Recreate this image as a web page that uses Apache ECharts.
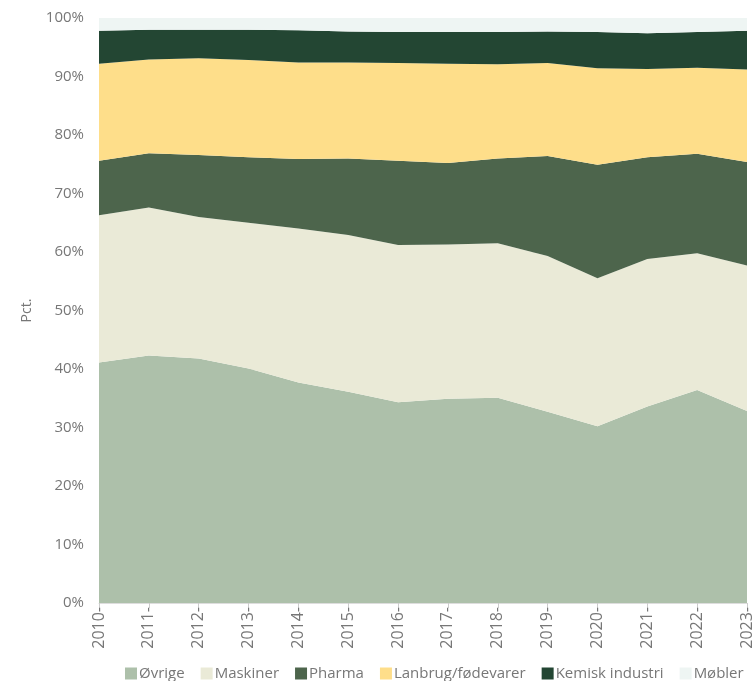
<!DOCTYPE html>
<html>
<head>
<meta charset="utf-8">
<script src="https://cdn.jsdelivr.net/npm/echarts@6/dist/echarts.min.js"></script>
<style>
  html, body { margin: 0; padding: 0; background: #fff; }
  #chart { width: 755px; height: 681px; }
</style>
</head>
<body>
<div id="chart"></div>
<script>
const years = ['2010', '2011', '2012', '2013', '2014', '2015', '2016', '2017', '2018', '2019', '2020', '2021', '2022', '2023'];

// andele i pct.
const ovrige = [41.1, 42.3, 41.8, 40.1, 37.7, 36.1, 34.3, 34.9, 35.1, 32.7, 30.2, 33.6, 36.4, 32.8];
const maskiner = [25.2, 25.3, 24.2, 24.9, 26.3, 26.8, 26.9, 26.4, 26.4, 26.6, 25.3, 25.2, 23.4, 24.9];
const pharma = [9.3, 9.3, 10.6, 11.2, 11.9, 13.1, 14.4, 13.9, 14.5, 17.1, 19.4, 17.4, 17.0, 17.7];
const lanbrug = [16.6, 16.0, 16.5, 16.6, 16.5, 16.4, 16.7, 17.0, 16.1, 15.9, 16.5, 15.1, 14.7, 15.8];
const kemisk = [5.6, 5.1, 4.9, 5.2, 5.5, 5.3, 5.3, 5.4, 5.5, 5.4, 6.2, 6.1, 6.1, 6.6];
const mobler = [2.2, 2.0, 2.0, 2.0, 2.1, 2.3, 2.4, 2.4, 2.4, 2.3, 2.4, 2.6, 2.4, 2.2];

const names = ['Øvrige', 'Maskiner', 'Pharma', 'Lanbrug/fødevarer', 'Kemisk industri', 'Møbler'];
const colors = ['#adc0aa', '#eaead7', '#4d654c', '#fede8a', '#234633', '#eef5f3'];
const values = [ovrige, maskiner, pharma, lanbrug, kemisk, mobler];

const chart = echarts.init(document.getElementById('chart'));

const series = names.map((name, i) => ({
  name: name,
  type: 'line',
  stack: 'total',
  data: values[i],
  symbol: 'none',
  lineStyle: { width: 0 },
  areaStyle: { color: colors[i], opacity: 1 },
  itemStyle: { color: colors[i] },
}));

chart.setOption({
  animation: false,
  textStyle: { fontFamily: 'Open Sans' },
  grid: { left: 99, right: 2, top: 18, bottom: 78 },
  legend: {
    bottom: -5,
    left: 120,
    icon: 'rect',
    itemWidth: 12,
    itemHeight: 12,
    itemGap: 16,
    itemStyle: { borderWidth: 0 },
    textStyle: { color: '#777', fontSize: 15, padding: [0, 0, 0, -3] },
    data: names,
  },
  xAxis: {
    type: 'category',
    data: years,
    boundaryGap: false,
    axisLine: { show: true, lineStyle: { color: '#ddd' } },
    axisTick: { show: true, alignWithLabel: true, length: 5, lineStyle: { color: '#ccc' } },
    axisLabel: {
      rotate: 90,
      interval: 0,
      color: '#777',
      fontSize: 16,
      margin: 4,
      formatter: v => v + '-',
    },
  },
  yAxis: {
    type: 'value',
    min: 0,
    max: 100,
    interval: 10,
    name: 'Pct.',
    nameLocation: 'middle',
    nameGap: 65,
    nameTextStyle: { color: '#777', fontSize: 14 },
    axisLine: { show: false },
    axisTick: { show: false },
    axisLabel: { color: '#777', fontSize: 15, margin: 15, formatter: '{value}%' },
    splitLine: { show: true, lineStyle: { color: '#ddd' } },
  },
  series: series,
});
</script>
</body>
</html>
